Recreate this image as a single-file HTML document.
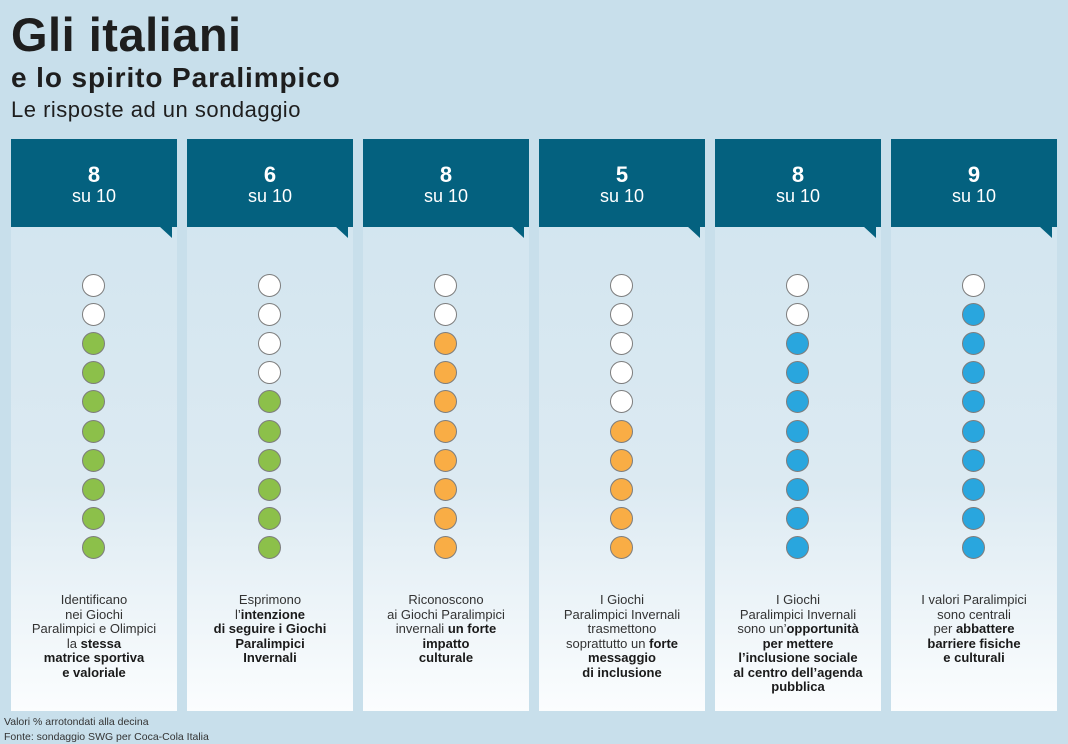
<!DOCTYPE html>
<html><head><meta charset="utf-8"><style>
*{margin:0;padding:0;box-sizing:border-box}
body{width:1068px;height:744px;background:#c8dfeb;font-family:"Liberation Sans",sans-serif;position:relative;overflow:hidden;color:#222}
.t{position:absolute;left:11px;white-space:nowrap;color:#1e1e1e}
.panel{position:absolute;top:139px;width:166px;height:572px;background:linear-gradient(#d0e4ef 0%,#dceaf2 60%,#fbfdfe 100%)}
.head{position:absolute;left:0;top:0;width:166px;height:88px;background:#04617f;color:#fff;text-align:center}
.head .n{font-size:22px;font-weight:bold;margin-top:24px;line-height:24px}
.head .s{font-size:18px;line-height:19px}
.tail{position:absolute;right:5px;top:87px;width:0;height:0;border-left:13px solid transparent;border-top:12px solid #04617f}
.dot{position:absolute;left:71px;width:23px;height:23px;border-radius:50%;border:1.6px solid #7d7d7d;background:#fff}
.txt{position:absolute;left:0;top:454px;width:166px;text-align:center;font-size:13px;line-height:14.5px;color:#333}
.txt b{color:#1a1a1a}
.foot{position:absolute;left:4px;font-size:10.5px;color:#333}
</style></head><body>
<div class="t" style="top:7px;font-size:47px;font-weight:bold;letter-spacing:0.5px">Gli italiani</div>
<div class="t" style="top:62px;font-size:28px;font-weight:bold;letter-spacing:0.9px">e lo spirito Paralimpico</div>
<div class="t" style="top:97px;font-size:22px;letter-spacing:0.5px">Le risposte ad un sondaggio</div>
<div id="c"></div>
<div class="foot" style="top:716px">Valori % arrotondati alla decina</div>
<div class="foot" style="top:731px">Fonte: sondaggio SWG per Coca-Cola Italia</div>
<script>
var data=[
[8,'#8cc04a','Identificano<br>nei Giochi<br>Paralimpici e Olimpici<br>la <b>stessa<br>matrice sportiva<br>e valoriale</b>'],
[6,'#8cc04a','Esprimono<br>l\u2019<b>intenzione<br>di seguire i Giochi<br>Paralimpici<br>Invernali</b>'],
[8,'#f9ad45','Riconoscono<br>ai Giochi Paralimpici<br>invernali <b>un forte<br>impatto<br>culturale</b>'],
[5,'#f9ad45','I Giochi<br>Paralimpici Invernali<br>trasmettono<br>soprattutto un <b>forte<br>messaggio<br>di inclusione</b>'],
[8,'#29a6de','I Giochi<br>Paralimpici Invernali<br>sono un\u2019<b>opportunità<br>per mettere<br>l\u2019inclusione sociale<br>al centro dell\u2019agenda<br>pubblica</b>'],
[9,'#29a6de','I valori Paralimpici<br>sono centrali<br>per <b>abbattere<br>barriere fisiche<br>e culturali</b>']];
var h='';
data.forEach(function(d,i){
 var x=11+i*176;
 h+='<div class="panel" style="left:'+x+'px"><div class="head"><div class="n">'+d[0]+'</div><div class="s">su 10</div></div><div class="tail"></div>';
 for(var k=0;k<10;k++){
  var filled=k>=10-d[0];
  h+='<div class="dot" style="top:'+(135+k*29.1)+'px;'+(filled?'background:'+d[1]+';':'')+'"></div>';
 }
 h+='<div class="txt">'+d[2]+'</div></div>';
});
document.getElementById('c').innerHTML=h;
</script>
</body></html>
